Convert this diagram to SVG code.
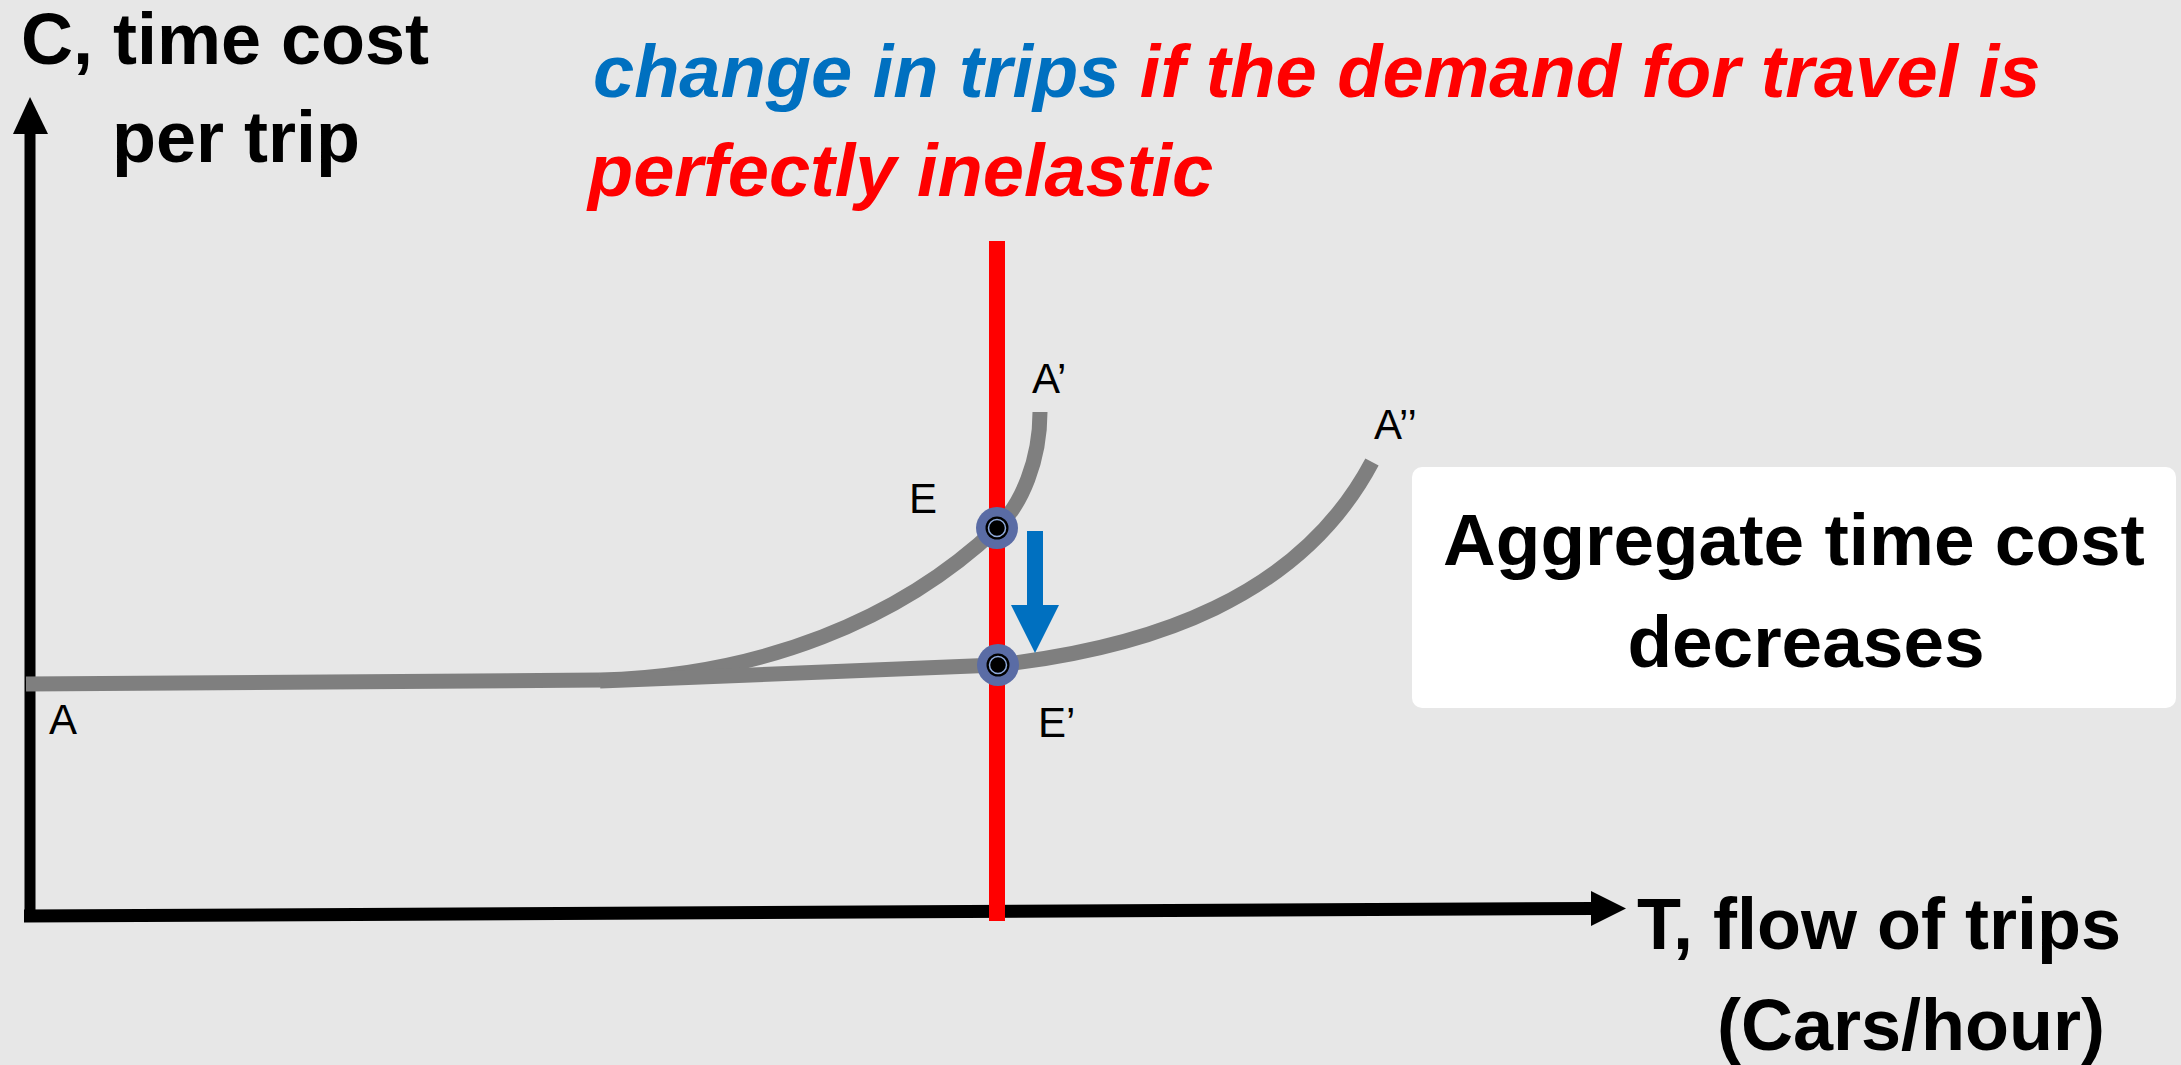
<svg xmlns="http://www.w3.org/2000/svg" width="2181" height="1065" viewBox="0 0 2181 1065">
  <defs>
    <style>
      .bg { fill: #E7E7E7; }
      .axis { stroke: #000000; fill: none; }
      .curve { stroke: #7F7F7F; stroke-width: 15; fill: none; stroke-linecap: butt; }
      .demand { stroke: #FF0000; stroke-width: 16; }
      .lbl { font-family: "Liberation Sans", Arial, sans-serif; font-size: 42px; fill: #000000; }
      .axislbl { font-family: "Liberation Sans", Arial, sans-serif; font-weight: bold; font-size: 72px; fill: #000000; }
      .title { font-family: "Liberation Sans", Arial, sans-serif; font-weight: bold; font-style: italic; font-size: 74px; }
      .boxtxt { font-family: "Liberation Sans", Arial, sans-serif; font-weight: bold; font-size: 73px; fill: #000000; text-anchor: middle; }
      .pt-outer { fill: #5A6CA5; }
      .pt-core { fill: #000000; }
      .pt-ring { fill: #000000; stroke: #8FAADC; stroke-width: 1.5; }
    </style>
  </defs>

  <rect class="bg" x="0" y="0" width="2181" height="1065"/>

  <g id="title">
    <text class="title" x="593" y="97"><tspan fill="#0070C0">change in trips</tspan><tspan fill="#FF0000"> if the demand for travel is</tspan></text>
    <text class="title" x="588" y="196" fill="#FF0000">perfectly inelastic</text>
  </g>

  <g id="connectors">
    <!-- axes -->
    <line class="axis" x1="30" y1="130" x2="30" y2="917" stroke-width="11"/>
    <polygon points="30,97 13,134 48,134" fill="#000000"/>
    <line class="axis" x1="24" y1="916" x2="1593" y2="908.5" stroke-width="13"/>
    <polygon points="1626,908.5 1591,891 1591,926" fill="#000000"/>

    <!-- supply / time cost curves -->
    <path class="curve" d="M 26 684 L 600 680"/>
    <path class="curve" d="M 600 680 C 760 676 900 620 997 528 C 1022 504 1040 460 1040 412"/>
    <path class="curve" d="M 600 681 L 997 665 C 1150 648 1300 598 1372 462"/>

    <!-- demand line -->
    <line class="demand" x1="997" y1="241" x2="997" y2="921"/>

    <!-- shift arrow -->
    <rect x="1027" y="531" width="16" height="76" fill="#0070C0"/>
    <polygon points="1011,605 1059,605 1035,653" fill="#0070C0"/>
  </g>

  <g id="point-E">
    <circle class="pt-outer" cx="997" cy="528" r="21"/>
    <circle class="pt-core" cx="997" cy="528" r="11.5"/>
    <circle class="pt-ring" cx="997" cy="528" r="8.5"/>
  </g>
  <g id="point-E-prime">
    <circle class="pt-outer" cx="998" cy="665" r="21"/>
    <circle class="pt-core" cx="998" cy="665" r="11.5"/>
    <circle class="pt-ring" cx="998" cy="665" r="8.5"/>
  </g>

  <g id="labels">
    <text class="lbl" x="49" y="734">A</text>
    <text class="lbl" x="1032" y="393">A’</text>
    <text class="lbl" x="1374" y="439">A’’</text>
    <text class="lbl" x="909" y="513">E</text>
    <text class="lbl" x="1038" y="737">E’</text>
  </g>

  <g id="y-axis-label">
    <text class="axislbl" x="21" y="64">C, time cost</text>
    <text class="axislbl" x="112" y="162" font-size="76">per trip</text>
  </g>

  <g id="x-axis-label">
    <text class="axislbl" x="1637" y="949" font-size="75">T, flow of trips</text>
    <text class="axislbl" x="1717" y="1050" font-size="76">(Cars/hour)</text>
  </g>

  <g id="note-box">
    <rect x="1412" y="467" width="764" height="241" rx="10" ry="10" fill="#FFFFFF"/>
    <text class="boxtxt" x="1794" y="565">Aggregate time cost</text>
    <text class="boxtxt" x="1806" y="667">decreases</text>
  </g>
</svg>
